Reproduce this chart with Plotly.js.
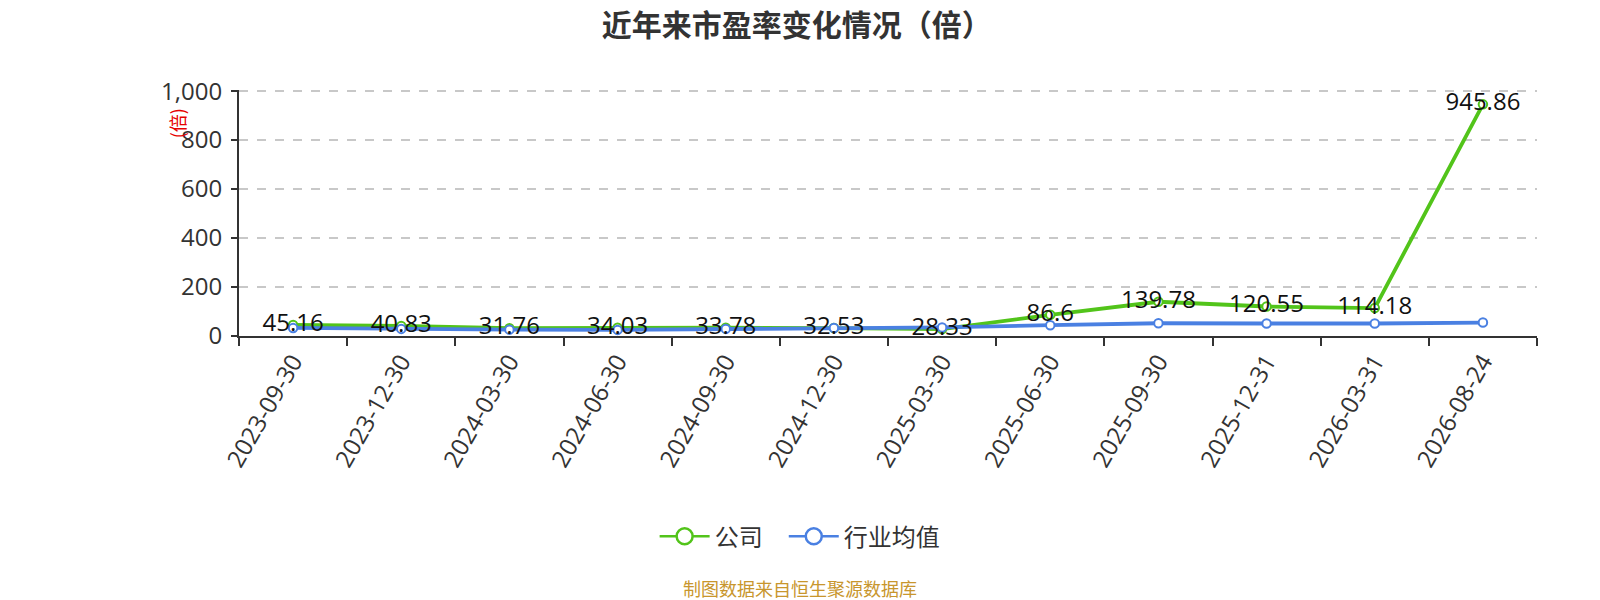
<!DOCTYPE html>
<html>
<head>
<meta charset="utf-8">
<script src="https://cdn.plot.ly/plotly-3.0.1.min.js"></script>
<style>
  html, body { margin: 0; padding: 0; background: #fff; }
  #chart { width: 1600px; height: 600px; }
</style>
</head>
<body>
<div id="chart"></div>
<script>
// ─── data ───────────────────────────────────────────────
var dates = ['2023-09-30', '2023-12-30', '2024-03-30', '2024-06-30', '2024-09-30', '2024-12-30',
  '2025-03-30', '2025-06-30', '2025-09-30', '2025-12-31', '2026-03-31', '2026-08-24'];
var companyPE = [45.16, 40.83, 31.76, 34.03, 33.78, 32.53, 28.33, 86.6, 139.78, 120.55, 114.18, 945.86];
var industryPE = [33, 29, 26, 25, 29, 33, 35, 44, 52, 51, 51, 55];
var seriesNames = ['公司', '行业均值'];
var yTicks = [0, 200, 400, 600, 800, 1000];

var GREEN = '#52c41a';
var BLUE = '#4a80e2';
var FONT = '"Open Sans", "Noto Sans CJK SC", sans-serif';
var CJK = '"Noto Sans CJK SC", "Open Sans", sans-serif';

function lineTrace(name, vals, color) {
  return {
    type: 'scatter', mode: 'lines+markers', name: name, x: dates, y: vals,
    showlegend: false, hoverinfo: 'x+y+name', cliponaxis: false,
    line: { color: color, width: 3.8 },
    marker: { symbol: 'circle', size: 8.5, color: '#fff', line: { color: color, width: 2 } }
  };
}

// dummy traces only for bigger legend symbols
function legendTrace(name, color) {
  return {
    type: 'scatter', mode: 'lines+markers', name: name, x: [null], y: [null],
    line: { color: color, width: 2.5 },
    marker: { symbol: 'circle', size: 16, color: '#fff', line: { color: color, width: 2.5 } }
  };
}

var traces = [
  lineTrace(seriesNames[0], companyPE, GREEN),
  lineTrace(seriesNames[1], industryPE, BLUE),
  // company value labels, drawn on top of both lines
  {
    type: 'scatter', mode: 'text', x: dates, y: companyPE, showlegend: false, hoverinfo: 'skip',
    text: companyPE.map(function (v) { return String(v); }),
    textposition: 'middle center', cliponaxis: false,
    textfont: { family: FONT, size: 24, color: '#111' }
  },
  // trailing no-break spaces widen the gap between the two legend entries
  legendTrace(seriesNames[0] + '\u00a0\u00a0\u00a0', GREEN),
  legendTrace(seriesNames[1], BLUE)
];

var layout = {
  width: 1600, height: 600,
  paper_bgcolor: '#fff', plot_bgcolor: '#fff',
  margin: { l: 239, r: 63, t: 89.5, b: 263.5, pad: 0 },
  font: { family: FONT, size: 24, color: '#333' },
  title: {
    text: '<b>近年来市盈率变化情况（倍）</b>',
    font: { family: CJK, size: 30, color: '#333' },
    x: 0.498, xanchor: 'center', y: 0.958, yanchor: 'middle'
  },
  xaxis: {
    type: 'category', range: [-0.5, 11.5], tickson: 'boundaries',
    showline: true, linecolor: '#333', linewidth: 2,
    ticks: 'outside', ticklen: 8, tickwidth: 2, tickcolor: '#333',
    tickangle: -60, tickfont: { family: FONT, size: 24, color: '#333' },
    showgrid: false, zeroline: false, fixedrange: true
  },
  yaxis: {
    range: [0, 1004.5], tickvals: yTicks, tickformat: ',',
    showline: true, linecolor: '#333', linewidth: 2,
    ticks: 'outside', ticklen: 6, tickwidth: 2, tickcolor: '#333',
    ticklabelstandoff: 4,
    tickfont: { family: FONT, size: 24, color: '#333' },
    showgrid: true, gridcolor: '#c8c8c8', gridwidth: 1.5, griddash: 'dash',
    zeroline: false, fixedrange: true
  },
  showlegend: true,
  legend: {
    orientation: 'h', x: 0.4323, xanchor: 'center', y: -0.8157, yanchor: 'middle',
    font: { family: CJK, size: 24, color: '#333' }, itemsizing: 'trace',
    itemwidth: 50,
    bgcolor: 'rgba(0,0,0,0)'
  },
  annotations: [
    {
      text: '(倍)', xref: 'paper', yref: 'paper', x: -0.0478, y: 0.8645,
      xanchor: 'center', yanchor: 'middle', textangle: -90, showarrow: false,
      font: { family: CJK, size: 18, color: '#e60000' }
    },
    {
      text: '制图数据来自恒生聚源数据库', xref: 'paper', yref: 'paper', x: 0.4323, y: -1.023,
      xanchor: 'center', yanchor: 'middle', showarrow: false,
      font: { family: CJK, size: 18, color: '#c8962d' }
    }
  ]
};

Plotly.newPlot('chart', traces, layout, { staticPlot: true, displayModeBar: false });
</script>
</body>
</html>
